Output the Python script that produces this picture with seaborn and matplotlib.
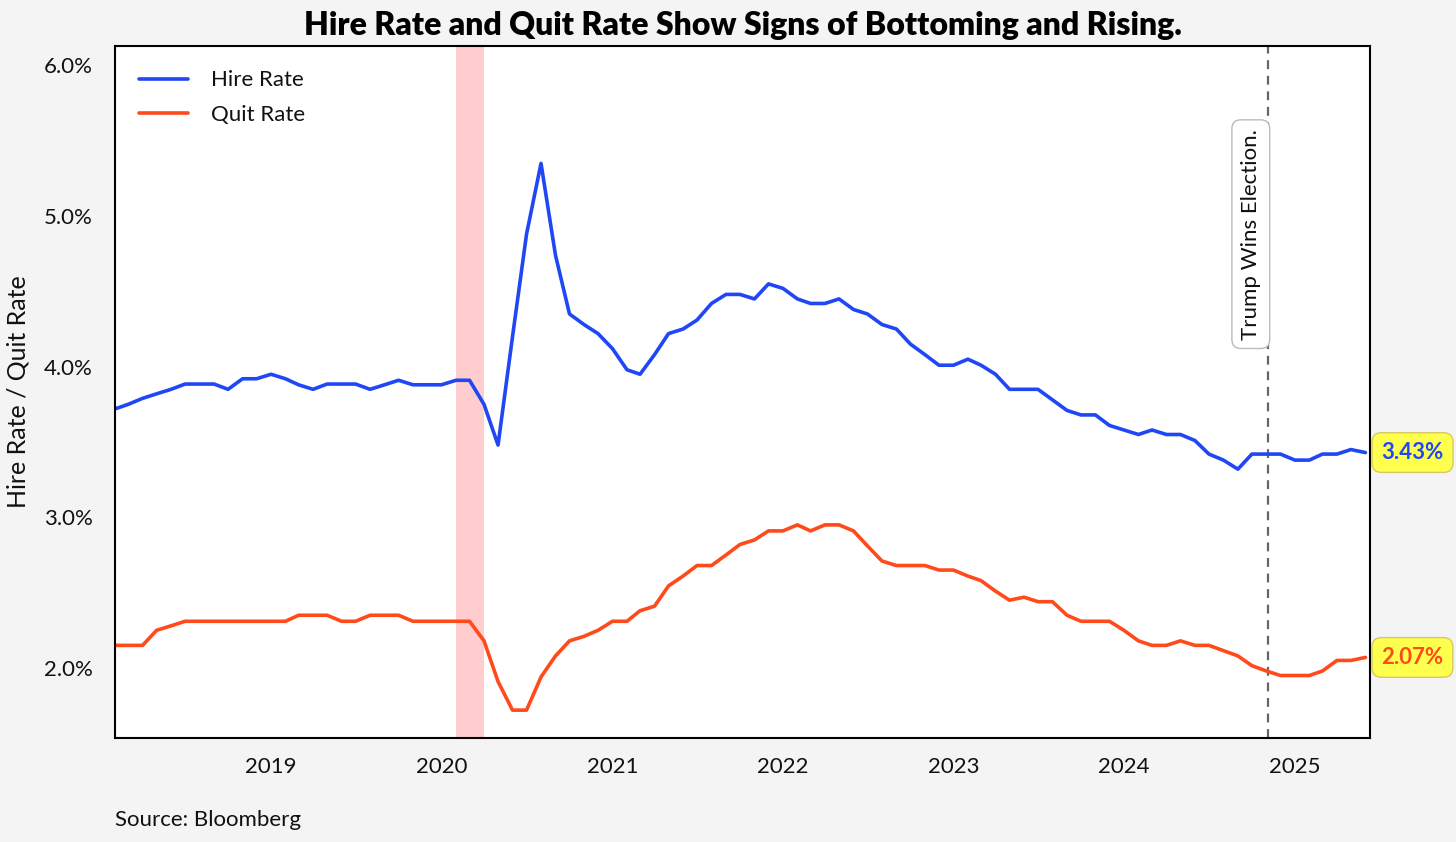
import matplotlib
matplotlib.use("Agg")
import matplotlib.pyplot as plt
import seaborn as sns
import pandas as pd

# monthly data, Feb 2018 - Jun 2025
start_month = "2018-02-01"
hire_rate = [3.72, 3.75, 3.79, 3.82, 3.85, 3.885, 3.885, 3.885, 3.85, 3.92,
             3.92, 3.95, 3.92, 3.88, 3.85, 3.885, 3.885, 3.885, 3.85, 3.88,
             3.91, 3.88, 3.88, 3.88, 3.91, 3.91, 3.75, 3.48, 4.20, 4.88,
             5.35, 4.74, 4.35, 4.28, 4.22, 4.12, 3.98, 3.95, 4.08, 4.22,
             4.25, 4.31, 4.42, 4.48, 4.48, 4.45, 4.55, 4.52, 4.45, 4.42,
             4.42, 4.45, 4.38, 4.35, 4.28, 4.25, 4.15, 4.08, 4.01, 4.01,
             4.05, 4.01, 3.95, 3.85, 3.85, 3.85, 3.78, 3.71, 3.68, 3.68,
             3.61, 3.58, 3.55, 3.58, 3.55, 3.55, 3.51, 3.42, 3.38, 3.32,
             3.42, 3.42, 3.42, 3.38, 3.38, 3.42, 3.42, 3.45, 3.43]
quit_rate = [2.15, 2.15, 2.15, 2.25, 2.28, 2.31, 2.31, 2.31, 2.31, 2.31,
             2.31, 2.31, 2.31, 2.35, 2.35, 2.35, 2.31, 2.31, 2.35, 2.35,
             2.35, 2.31, 2.31, 2.31, 2.31, 2.31, 2.18, 1.91, 1.72, 1.72,
             1.94, 2.08, 2.18, 2.21, 2.25, 2.31, 2.31, 2.38, 2.41, 2.545,
             2.61, 2.68, 2.68, 2.75, 2.82, 2.85, 2.91, 2.91, 2.95, 2.91,
             2.95, 2.95, 2.91, 2.81, 2.71, 2.68, 2.68, 2.68, 2.65, 2.65,
             2.61, 2.58, 2.51, 2.45, 2.47, 2.44, 2.44, 2.35, 2.31, 2.31,
             2.31, 2.25, 2.18, 2.15, 2.15, 2.18, 2.15, 2.15, 2.115, 2.08,
             2.015, 1.98, 1.95, 1.95, 1.95, 1.98, 2.05, 2.05, 2.07]
series_names = ["Hire Rate", "Quit Rate"]
colors = ["#1f47f5", "#ff4a1c"]
recession = ("2020-02-01", "2020-04-01")
election_date = "2024-11-05"
year_ticks = [2019, 2020, 2021, 2022, 2023, 2024, 2025]
y_ticks = [2.0, 3.0, 4.0, 5.0, 6.0]

dates = pd.date_range(start_month, periods=len(hire_rate), freq="MS")
df = pd.concat([
    pd.DataFrame({"date": dates, "rate": hire_rate, "series": series_names[0]}),
    pd.DataFrame({"date": dates, "rate": quit_rate, "series": series_names[1]}),
])

sns.set_style("white")
plt.rcParams["font.family"] = ["Lato", "DejaVu Sans"]
plt.rcParams["text.color"] = "#111111"

fig = plt.figure(figsize=(14.56, 8.42), dpi=100, facecolor="#f4f4f4")
ax = fig.add_axes([0.079, 0.1235, 0.862, 0.822])
ax.set_facecolor("white")

ax.axvspan(pd.Timestamp(recession[0]), pd.Timestamp(recession[1]),
           color="#ffb3b3", alpha=0.65, lw=0, zorder=0)

sns.lineplot(data=df, x="date", y="rate", hue="series",
             palette=dict(zip(series_names, colors)), linewidth=2.6, ax=ax)

el = pd.Timestamp(election_date)
ax.axvline(el, color="#666666", ls=(0, (4, 3)), lw=1.6, zorder=1)
ax.text(el - pd.Timedelta(days=16), 5.58, "Trump Wins Election.", rotation=90,
        ha="right", va="top", fontsize=16, color="#111111",
        bbox=dict(boxstyle="round,pad=0.4", fc="white", ec="#bbbbbb", lw=1))

ax.set_xlim(dates[0], dates[-1] + pd.Timedelta(days=10))
ax.set_ylim(1.535, 6.13)
ax.set_xticks([pd.Timestamp(f"{y}-01-01") for y in year_ticks])
ax.set_xticklabels([str(y) for y in year_ticks])
ax.set_yticks(y_ticks)
ax.set_yticklabels([f"{v:.1f}%" for v in y_ticks])
ax.tick_params(axis="both", length=0, labelsize=16, colors="#111111")
ax.tick_params(axis="x", pad=14)
ax.tick_params(axis="y", pad=16)
ax.set_xlabel("")
ax.set_ylabel("Hire Rate / Quit Rate", fontsize=18, labelpad=10, color="#111111")
for s in ax.spines.values():
    s.set_visible(True)
    s.set_color("black")
    s.set_linewidth(1.5)

leg = ax.legend(loc="upper left", frameon=False, prop={"size": 16},
                handlelength=2.2, handletextpad=1.0, labelspacing=0.65,
                borderaxespad=0.7)
for line in leg.get_lines():
    line.set_linewidth(2.6)

# end-value labels
trans = ax.get_yaxis_transform()
for vals, col in zip([hire_rate, quit_rate], colors):
    ax.text(1.009, vals[-1], f"{vals[-1]:.2f}%", transform=trans,
            ha="left", va="center", fontsize=16, fontweight="bold", color=col,
            clip_on=False,
            bbox=dict(boxstyle="round,pad=0.42", fc="#ffff4d", ec="#d8c860", lw=1))

ax.set_title("Hire Rate and Quit Rate Show Signs of Bottoming and Rising.",
             fontsize=23, fontweight="heavy", pad=8, color="black")
fig.text(0.079, 0.019, "Source: Bloomberg", fontsize=16, color="#111111")

fig.savefig("out.png", dpi=100, facecolor=fig.get_facecolor())
